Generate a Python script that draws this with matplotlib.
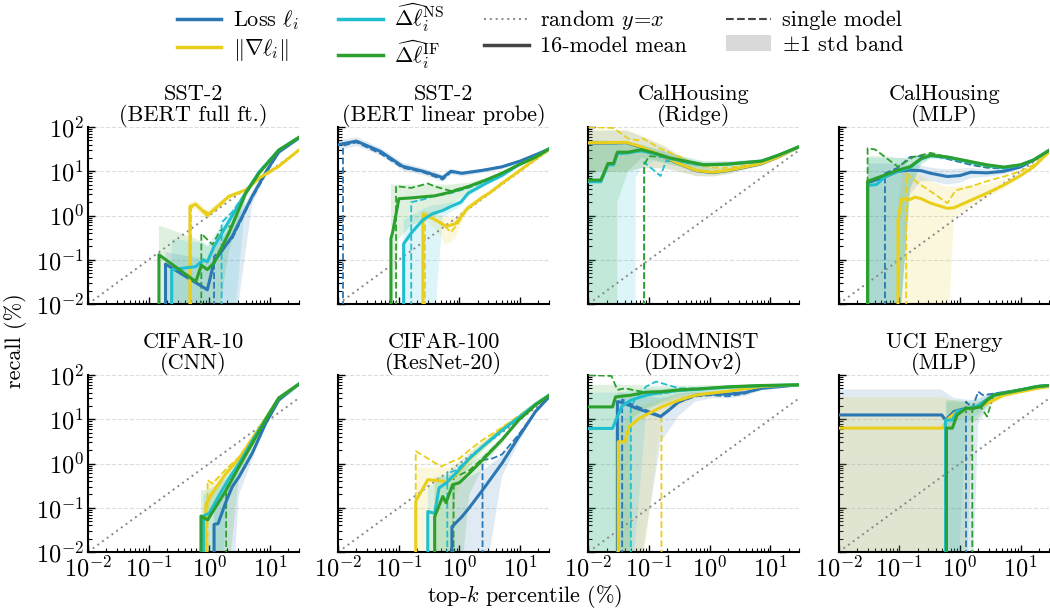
import numpy as np
import matplotlib
matplotlib.use("Agg")
import matplotlib.pyplot as plt
from matplotlib.lines import Line2D
from matplotlib.patches import Patch
from matplotlib.ticker import LogLocator, NullFormatter

# =========================================================
# DATA (recall % vs top-k percentile %)
# x: top-k percentile, mean: 16-model mean, lo/hi: +-1 std band
# sx/sy: single model curve. recall 0 -> drawn as vertical drop
# =========================================================

# --- SST-2 (BERT full ft.)
sst2_full_loss = dict(
    x=[0.19, 0.19, 0.93, 1.2, 2.4, 5.1, 9.1, 14, 30],
    mean=[0, 0.08, 0.021, 0.09, 0.34, 2.7, 11, 27, 56],
    hi=[0, 0.15, 0.1, 0.2, 0.6, 3.5, 12.5, 29, 58],
    lo=[0, 0, 0, 0, 0.001, 1.8, 9.5, 25, 54],
    sx=[1.2, 1.2, 2.4, 5.1, 9.1, 14, 30],
    sy=[0, 0.12, 0.3, 2.5, 10, 27, 56])
sst2_full_grad = dict(
    x=[0.48, 0.48, 0.6, 0.93, 2.1, 4.0, 6.6, 14, 30],
    mean=[0, 1.6, 1.8, 1.0, 2.7, 3.8, 7, 13, 30],
    hi=[0, 2.0, 2.2, 1.3, 3.0, 4.1, 7.5, 13.5, 31],
    lo=[0, 1.2, 1.4, 0.8, 2.4, 3.5, 6.5, 12.5, 29],
    sx=[0.5, 0.5, 0.6, 1.0, 1.4, 2.1, 4, 6.6, 14, 30],
    sy=[0, 1.5, 1.7, 1.1, 1.5, 2.6, 3.7, 6.5, 12.5, 30])
sst2_full_ns = dict(
    x=[0.24, 0.24, 0.6, 0.8, 0.93, 1.2, 2.4, 4.0, 6.6, 14, 30],
    mean=[0, 0.06, 0.07, 0.1, 0.09, 0.2, 1.0, 3.3, 9.5, 30, 58],
    hi=[0, 0.3, 0.25, 0.25, 0.22, 0.35, 1.4, 3.8, 10, 31, 59],
    lo=[0, 0, 0, 0, 0, 0, 0.001, 2.6, 8.8, 29, 57],
    sx=[1.6, 1.6, 2.4, 4, 6.6, 14, 30],
    sy=[0, 0.7, 1.2, 3.3, 10, 30, 58])
sst2_full_if = dict(
    x=[0.148, 0.148, 0.6, 0.74, 0.93, 1.2, 2.1, 4.0, 6.6, 14, 30],
    mean=[0, 0.13, 0.032, 0.075, 0.06, 0.085, 0.4, 3.2, 9, 30, 58],
    hi=[0, 0.6, 0.3, 0.25, 0.2, 0.25, 0.7, 4.0, 10, 32, 59],
    lo=[0, 0, 0, 0, 0, 0.001, 0.15, 2.5, 8, 28, 57],
    sx=[0.74, 0.74, 1.13, 1.5, 2.4, 4, 6.6, 14, 30],
    sy=[0, 0.39, 0.22, 0.45, 0.6, 3.3, 9.5, 30, 58])

# --- SST-2 (BERT linear probe)
sst2_lin_loss = dict(
    x=[0.01, 0.02, 0.05, 0.115, 0.25, 0.53, 0.72, 1.1, 2.4, 5, 10, 20, 30],
    mean=[40, 48, 28, 13, 10, 7.2, 10, 9, 10.5, 12.6, 17, 25, 32],
    hi=[52, 60, 34, 16, 12, 8.5, 11.5, 10.3, 11.7, 13.8, 18.3, 26.5, 33],
    lo=[31, 38, 23, 10.5, 8.4, 6.0, 8.7, 7.8, 9.4, 11.5, 15.8, 23.5, 31],
    sx=[0.012, 0.012, 0.02, 0.05, 0.115, 0.25, 0.53, 0.72, 1.1, 2.4, 5, 10, 20, 30],
    sy=[0, 38, 45, 25, 12, 9.5, 6.5, 9.5, 9, 10.5, 12.6, 17, 25, 32])
sst2_lin_grad = dict(
    x=[0.25, 0.25, 0.4, 0.6, 0.86, 1.05, 1.35, 2.4, 3.1, 5, 9.5, 18, 30],
    mean=[0, 1.1, 0.8, 0.57, 0.65, 0.93, 1.45, 2.6, 3.2, 5.3, 10, 19, 31],
    hi=[0, 1.3, 1.1, 0.9, 0.9, 1.2, 1.7, 2.9, 3.5, 5.7, 10.5, 19.5, 32],
    lo=[0, 0.9, 0.5, 0.22, 0.3, 0.65, 1.2, 2.3, 2.9, 5, 9.5, 18.5, 30],
    sx=[0.27, 0.27, 0.5, 0.72, 0.9, 1.35, 2.4, 5, 9.5, 18, 30],
    sy=[0, 1.0, 0.7, 0.42, 0.6, 1.4, 2.5, 5.5, 10, 19, 31])
sst2_lin_ns = dict(
    x=[0.12, 0.12, 0.16, 0.25, 0.36, 0.53, 0.72, 1.05, 1.4, 2.7, 5, 9.5, 18, 30],
    mean=[0, 0.23, 0.4, 0.8, 1.1, 1.3, 1.6, 2.0, 3.2, 5.3, 8, 14, 21, 32],
    hi=[0, 0.8, 1.0, 1.4, 1.7, 1.8, 2.0, 2.4, 3.8, 6, 9, 15, 22, 33],
    lo=[0, 0.001, 0.001, 0.001, 0.001, 0.9, 1.2, 1.6, 2.7, 4.7, 7.2, 13, 20, 31],
    sx=[0.16, 0.16, 0.25, 0.4, 0.72, 1.4, 2.7, 5, 9.5, 18, 30],
    sy=[0, 2.0, 2.3, 2.8, 3.2, 4.2, 6, 8.5, 14, 21, 32])
sst2_lin_if = dict(
    x=[0.074, 0.074, 0.08, 0.1, 0.16, 0.4, 0.72, 1.4, 2.7, 5, 9.5, 18, 30],
    mean=[0, 0.3, 0.45, 2.4, 2.5, 2.8, 3.4, 4.5, 6.3, 9, 14, 21, 32],
    hi=[0, 5, 5, 5, 5, 5, 5, 5.5, 7, 9.8, 15, 22, 33],
    lo=[0, 0.001, 0.01, 0.3, 0.6, 1.0, 1.8, 3.3, 5.6, 8.2, 13, 20, 31],
    sx=[0.09, 0.09, 0.16, 0.3, 0.4, 0.72, 1.4, 2.7, 5, 9.5, 18, 30],
    sy=[0, 4.6, 4.2, 5.3, 4.5, 3.6, 4.6, 6.3, 9, 14, 21, 32])

# --- CalHousing (Ridge)
cal_ridge_loss = dict(
    x=[0.01, 0.042, 0.069, 0.17, 0.31, 0.59, 1.1, 2.0, 3.8, 7.2, 13.5, 30],
    mean=[43, 44, 36, 21.5, 14.8, 10.3, 9.3, 10.3, 12.3, 14.8, 21, 36],
    hi=[85, 85, 65, 38, 23, 14.5, 11.8, 12.3, 13.6, 16, 22, 37],
    lo=[10, 10, 12, 12, 10, 8, 7.8, 8.8, 11.2, 13.8, 20, 35])
cal_ridge_grad = dict(
    x=[0.01, 0.042, 0.069, 0.17, 0.31, 0.59, 1.1, 2.0, 3.8, 7.2, 13.5, 30],
    mean=[44, 45, 37, 22, 15, 10.5, 9.5, 10.5, 12.5, 15, 21, 36],
    hi=[90, 88, 70, 40, 24, 15, 12, 12.5, 13.8, 16.2, 22, 37],
    lo=[10, 10, 12, 12, 10, 8, 7.8, 8.8, 11.2, 13.8, 20, 35],
    sx=[0.01, 0.026, 0.045, 0.065, 0.08, 0.15, 0.3, 0.6, 1.2, 2, 3.8, 7.2, 13.5, 30],
    sy=[100, 95, 55, 50, 55, 33, 22, 14, 12, 12, 13.5, 16, 22, 36])
cal_ridge_ns = dict(
    x=[0.01, 0.016, 0.021, 0.026, 0.03, 0.045, 0.054, 0.06, 0.075, 0.12, 0.22,
       0.4, 0.8, 2.0, 7.2, 13.5, 30],
    mean=[5.8, 5.8, 14, 14, 25, 26, 27, 28, 29, 25, 19.5, 16.5, 14, 14.5, 17, 23, 36],
    hi=[45, 45, 45, 42, 40, 38, 38, 38, 38, 32, 25, 20, 16, 16.5, 18.5, 24.5, 37],
    lo=[0, 0, 0, 0, 0, 0, 0, 7, 12, 17, 15, 13.5, 12, 12.5, 15.5, 21.5, 35],
    sx=[0.083, 0.083, 0.155, 0.19, 0.3, 0.6, 2, 7.2, 13.5, 30],
    sy=[0, 16, 7.8, 17, 17, 14, 14.5, 17, 23, 36])
cal_ridge_if = dict(
    x=[0.01, 0.016, 0.021, 0.026, 0.03, 0.045, 0.075, 0.12, 0.22, 0.4, 0.8, 2.0,
       7.2, 13.5, 30],
    mean=[6.3, 6.3, 15, 15, 27, 27, 31, 26, 20, 17, 14, 14.5, 17, 23, 36],
    hi=[50, 50, 50, 45, 42, 40, 40, 33, 26, 21, 17, 17, 18.5, 24.5, 37],
    lo=[0, 0, 0, 0, 2, 10, 20, 18, 14, 12, 10.5, 11.5, 15.5, 21.5, 35],
    sx=[0.083, 0.083, 0.1, 0.17, 0.3, 0.6, 1.2, 2, 7.2, 13.5, 30],
    sy=[0, 14, 22, 21, 17, 14.5, 13.5, 14.5, 17, 23, 36])

# --- CalHousing (MLP)
cal_mlp_loss = dict(
    x=[0.03, 0.03, 0.058, 0.095, 0.15, 0.23, 0.33, 0.62, 1.0, 1.5, 2.8, 5.3, 10, 16.5, 30],
    mean=[0, 5.5, 7.5, 10, 10.6, 10.3, 9, 7.6, 8, 9.5, 9.2, 10, 12.5, 18, 30],
    hi=[0, 15, 15, 15, 14, 13.5, 12, 11, 11.5, 12, 11, 11, 13.5, 19, 31],
    lo=[0, 0, 0, 0.001, 3, 6, 6, 5, 5.5, 7, 7.5, 8.5, 11.5, 17, 29],
    sx=[0.058, 0.058, 0.095, 0.15, 0.33, 0.62, 1.5, 2.8, 5.3, 10, 16.5, 30],
    sy=[0, 9, 12, 21, 23, 19, 14, 12, 11.5, 13, 18, 30])
cal_mlp_grad = dict(
    x=[0.095, 0.095, 0.11, 0.15, 0.18, 0.23, 0.33, 0.62, 0.8, 1.5, 2.8, 5.3, 10, 16.5, 30],
    mean=[0, 0.8, 2.4, 2.3, 2.6, 2.4, 1.9, 1.45, 1.5, 2.2, 3.2, 4.9, 8, 12.6, 28],
    hi=[0, 1.5, 9, 9, 9, 8, 6, 4.5, 4.5, 5, 5, 6.5, 9, 13.5, 29],
    lo=[0, 0, 0, 0, 0, 0, 0, 0.001, 0.9, 1.6, 2.5, 4, 7, 11.5, 27],
    sx=[0.13, 0.13, 0.2, 0.33, 0.62, 0.85, 1.5, 2.8, 5.3, 10, 16.5, 30],
    sy=[0, 8.9, 5.5, 3.5, 1.9, 3.7, 4.5, 6, 7.6, 10, 14, 28])
cal_mlp_ns = dict(
    x=[0.03, 0.03, 0.042, 0.058, 0.095, 0.15, 0.23, 0.33, 0.62, 1.5, 2.8, 5.3, 10, 16.5, 30],
    mean=[0, 4.8, 5, 7.5, 10, 12, 19, 22.5, 20.5, 16, 13.5, 12, 13.8, 18, 30],
    hi=[0, 20, 20, 20, 20, 20, 23, 25, 23, 18, 15, 13.5, 15, 19, 31],
    lo=[0, 0, 0, 0, 0.001, 4, 14, 19, 18, 14, 12, 10.5, 12.5, 17, 29])
cal_mlp_if = dict(
    x=[0.03, 0.03, 0.032, 0.042, 0.058, 0.095, 0.15, 0.23, 0.33, 0.62, 1.5, 2.8, 5.3,
       10, 16.5, 30],
    mean=[0, 6, 6.1, 7, 8.2, 10.6, 12.6, 19.5, 23, 21, 16.5, 14, 12.4, 14, 18, 30],
    hi=[0, 22, 22, 22, 22, 20, 20, 23, 26, 23, 18, 15, 13.5, 15, 19, 31],
    lo=[0, 0, 0, 0, 0, 0.001, 4, 15, 20, 19, 15, 13, 11.5, 13, 17, 29],
    sx=[0.03, 0.03, 0.04, 0.095, 0.17, 0.33, 0.62, 1.5, 2.8, 5.3, 10, 16.5, 30],
    sy=[0, 33, 31, 12.6, 21, 26, 21, 15, 12.5, 12, 13.5, 18, 30])

# --- CIFAR-10 (CNN)
cifar10_loss = dict(
    x=[1.2, 1.2, 1.4, 1.9, 2.4, 3.1, 5.1, 8.5, 14, 30],
    mean=[0, 0.042, 0.044, 0.14, 0.3, 0.5, 1.7, 8, 27, 62],
    hi=[0, 0.1, 0.12, 0.3, 0.5, 0.8, 2.2, 9, 28, 63],
    lo=[0, 0, 0, 0, 0.001, 0.2, 1.2, 7, 26, 61])
cifar10_grad = dict(
    x=[0.88, 0.88, 1.13, 1.9, 3.1, 5.1, 8.5, 14, 30],
    mean=[0, 0.12, 0.22, 0.6, 1.3, 3.6, 10.5, 30, 62],
    hi=[0, 0.3, 0.4, 0.8, 1.5, 4, 11, 31, 63],
    lo=[0, 0.05, 0.12, 0.45, 1.1, 3.2, 10, 29, 61],
    sx=[0.94, 0.94, 1.13, 1.9, 3.1, 5.1, 8.5, 14, 30],
    sy=[0, 0.42, 0.35, 0.75, 1.4, 3.8, 10.5, 30, 62])
cifar10_ns = dict(
    x=[0.8, 0.8, 1.0, 1.45, 2.1, 3.1, 5.1, 8.5, 14, 30],
    mean=[0, 0.065, 0.075, 0.19, 0.45, 1.0, 3.2, 10, 30, 62],
    hi=[0, 0.2, 0.2, 0.35, 0.7, 1.3, 3.8, 11, 31, 63],
    lo=[0, 0, 0, 0.001, 0.2, 0.7, 2.7, 9, 29, 61])
cifar10_if = dict(
    x=[0.73, 0.73, 0.94, 1.9, 3.1, 5.1, 8.5, 14, 30],
    mean=[0, 0.065, 0.053, 0.25, 0.85, 2.8, 9.6, 30, 62],
    hi=[0, 0.25, 0.25, 0.45, 1.1, 3.3, 10.5, 31, 63],
    lo=[0, 0, 0, 0.001, 0.5, 2.3, 8.8, 29, 61],
    sx=[1.9, 1.9, 3.1, 5.1, 8.5, 14, 30],
    sy=[0, 0.27, 0.9, 2.9, 9.8, 30, 62])

# --- CIFAR-100 (ResNet-20)
cifar100_loss = dict(
    x=[0.75, 0.75, 1.1, 1.45, 2.4, 5, 9.5, 18, 30],
    mean=[0, 0.037, 0.063, 0.1, 0.25, 1.0, 4, 15, 32],
    hi=[0, 0.3, 0.4, 0.5, 0.7, 1.5, 5, 16, 33],
    lo=[0, 0, 0, 0, 0.001, 0.5, 3, 14, 31],
    sx=[2.4, 2.4, 3.5, 5, 9.5, 18, 30],
    sy=[0, 1.2, 1.3, 1.6, 4.5, 15, 32])
cifar100_grad = dict(
    x=[0.19, 0.19, 0.3, 0.45, 0.63, 0.87, 1.45, 2.4, 5, 9.5, 18, 30],
    mean=[0, 0.14, 0.43, 0.41, 0.38, 0.55, 1.25, 2.4, 6, 11, 22, 35],
    hi=[0, 0.8, 0.8, 0.8, 0.8, 1.0, 1.8, 3.2, 7, 12, 23, 36],
    lo=[0, 0, 0, 0, 0.001, 0.2, 0.8, 1.8, 5, 10, 21, 34],
    sx=[0.19, 0.19, 0.5, 0.63, 1.0, 1.45, 2.4, 5, 9.5, 18, 30],
    sy=[0, 1.9, 0.85, 1.0, 1.3, 2.0, 3.4, 6.5, 12, 22, 35])
cifar100_ns = dict(
    x=[0.3, 0.3, 0.39, 0.46, 0.6, 0.87, 1.45, 2.4, 5, 9.5, 18, 30],
    mean=[0, 0.082, 0.075, 0.28, 0.36, 0.6, 1.3, 2.4, 5.6, 11, 22, 35],
    hi=[0, 0.3, 0.35, 0.5, 0.6, 0.9, 1.7, 3, 6.5, 12, 23, 36],
    lo=[0, 0, 0, 0, 0.001, 0.3, 0.9, 1.9, 4.8, 10, 21, 34],
    sx=[0.63, 0.63, 0.87, 1.45, 2.4, 5, 9.5, 18, 30],
    sy=[0, 0.6, 0.7, 1.3, 2.4, 5.6, 11, 22, 35])
cifar100_if = dict(
    x=[0.39, 0.39, 0.53, 0.6, 0.77, 1.0, 1.45, 2.4, 5, 9.5, 18, 30],
    mean=[0, 0.063, 0.18, 0.13, 0.33, 0.37, 0.6, 1.2, 3.4, 9.6, 21, 34],
    hi=[0, 0.5, 0.5, 0.5, 0.6, 0.7, 1.0, 1.6, 4, 10.5, 22, 35],
    lo=[0, 0, 0, 0, 0, 0.001, 0.2, 0.8, 2.8, 8.8, 20, 33],
    sx=[0.8, 0.8, 1.0, 1.45, 2.4, 5, 9.5, 18, 30],
    sy=[0, 0.5, 0.55, 0.7, 1.3, 3.5, 9.6, 21, 34])

# --- BloodMNIST (DINOv2)
blood_loss = dict(
    x=[0.03, 0.03, 0.036, 0.06, 0.155, 0.2, 0.31, 0.58, 1.1, 2.0, 3.8, 7.2, 30],
    mean=[0, 25, 24, 18, 11.5, 15, 25, 35, 37, 37, 40, 50, 60],
    hi=[0, 40, 40, 35, 30, 32, 38, 42, 43, 45, 47, 55, 63],
    lo=[0, 0, 0, 0.001, 3, 5, 12, 25, 30, 30, 33, 45, 57],
    sx=[0.036, 0.036, 0.06, 0.155, 0.31, 0.58, 1.1, 2, 3.8, 7.2, 30],
    sy=[0, 28, 20, 12, 24, 33, 35, 33, 38, 50, 60])
blood_grad = dict(
    x=[0.031, 0.031, 0.04, 0.047, 0.069, 0.16, 0.31, 0.58, 1.1, 2, 7.2, 30],
    mean=[0, 3.1, 3.1, 6.8, 10.5, 19, 27, 35, 39, 43, 55, 60],
    hi=[0, 8, 8, 15, 20, 28, 36, 40, 43, 47, 58, 62],
    lo=[0, 0, 0, 0, 0.001, 12, 20, 30, 35, 40, 52, 58],
    sx=[0.16, 0.16, 0.31, 0.58, 1.1, 2, 7.2, 30],
    sy=[0, 11.5, 26, 34, 39, 43, 55, 60])
blood_ns = dict(
    x=[0.01, 0.025, 0.03, 0.036, 0.05, 0.09, 0.155, 0.31, 0.58, 2, 7.2, 30],
    mean=[6.2, 6.2, 11.5, 20, 27, 35, 40, 45, 47, 53, 57, 60],
    hi=[40, 40, 40, 40, 45, 50, 50, 52, 53, 57, 60, 63],
    lo=[0, 0, 0, 0, 0.001, 15, 25, 35, 40, 48, 54, 57],
    sx=[0.05, 0.05, 0.06, 0.09, 0.13, 0.2, 0.31, 1.1, 7.2, 30],
    sy=[0, 18, 30, 55, 71, 60, 50, 50, 58, 60])
blood_if = dict(
    x=[0.01, 0.025, 0.028, 0.05, 0.09, 0.155, 0.31, 0.58, 2, 7.2, 30],
    mean=[19, 19, 32, 35, 41, 42, 46, 48, 54, 58, 60],
    hi=[60, 60, 60, 60, 58, 57, 58, 58, 60, 62, 63],
    lo=[0, 0, 0, 10, 18, 22, 30, 36, 46, 53, 57],
    sx=[0.01, 0.024, 0.03, 0.04, 0.09, 0.16, 0.31, 1.1, 7.2, 30],
    sy=[100, 95, 46, 50, 40, 38, 44, 50, 58, 60])

# --- UCI Energy (MLP)
energy_loss = dict(
    x=[0.01, 0.5, 0.58, 0.8, 1.26, 1.6, 2.0, 3.6, 10, 19, 30],
    mean=[12.5, 12.5, 9.6, 15, 17.7, 17, 20, 35, 46, 55, 58],
    hi=[47, 47, 40, 30, 28, 27, 30, 40, 50, 57, 60],
    lo=[0, 0, 0, 0, 0, 0.001, 8, 28, 42, 52, 56],
    sx=[1.26, 1.26, 1.6, 2.0, 2.4, 3.6, 10, 19, 30],
    sy=[0, 25, 17.7, 42, 35, 38, 47, 55, 58])
energy_grad = dict(
    x=[0.01, 0.52, 0.6, 0.9, 1.6, 2.8, 5.3, 10, 19, 30],
    mean=[6.3, 6.3, 9.6, 15, 17.7, 23, 35, 42, 50, 55],
    hi=[32, 32, 30, 25, 24, 28, 40, 46, 53, 57],
    lo=[0, 0, 5, 10, 13, 19, 30, 38, 47, 53])
energy_ns = dict(
    x=[0.58, 0.58, 0.75, 0.9, 1.26, 2.0, 3.6, 10, 19, 30],
    mean=[0, 9.6, 9.6, 15, 17, 20, 35, 46, 55, 58],
    hi=[0, 25, 25, 25, 25, 28, 40, 50, 57, 60],
    lo=[0, 0, 0, 0.001, 8, 13, 30, 42, 52, 56])
energy_if = dict(
    x=[0.6, 0.6, 0.75, 0.9, 1.26, 1.6, 2.2, 2.8, 3.6, 5.3, 10, 19, 30],
    mean=[0, 6.3, 6.3, 12.5, 17.7, 17.7, 19, 27, 35, 39, 46, 55, 58],
    hi=[0, 27, 27, 27, 25, 22, 25, 32, 40, 43, 49, 57, 60],
    lo=[0, 0, 0, 0, 0.001, 8, 12, 20, 30, 35, 43, 53, 56],
    sx=[1.6, 1.6, 2.2, 2.8, 3.6, 5.3, 10, 19, 30],
    sy=[0, 17.7, 19, 11.5, 35, 40, 46, 55, 58])

titles = ["SST-2\n(BERT full ft.)", "SST-2\n(BERT linear probe)",
          "CalHousing\n(Ridge)", "CalHousing\n(MLP)",
          "CIFAR-10\n(CNN)", "CIFAR-100\n(ResNet-20)",
          "BloodMNIST\n(DINOv2)", "UCI Energy\n(MLP)"]

panels = [
    [sst2_full_loss, sst2_full_grad, sst2_full_ns, sst2_full_if],
    [sst2_lin_loss, sst2_lin_grad, sst2_lin_ns, sst2_lin_if],
    [cal_ridge_loss, cal_ridge_grad, cal_ridge_ns, cal_ridge_if],
    [cal_mlp_loss, cal_mlp_grad, cal_mlp_ns, cal_mlp_if],
    [cifar10_loss, cifar10_grad, cifar10_ns, cifar10_if],
    [cifar100_loss, cifar100_grad, cifar100_ns, cifar100_if],
    [blood_loss, blood_grad, blood_ns, blood_if],
    [energy_loss, energy_grad, energy_ns, energy_if],
]

method_labels = [r"Loss $\ell_i$", r"$\|\nabla\ell_i\|$",
                 r"$\widehat{\Delta\ell}_i^{\mathrm{NS}}$",
                 r"$\widehat{\Delta\ell}_i^{\mathrm{IF}}$"]
colors = ["#2a77b4", "#e9cf1c", "#1fbfd0", "#2ca02c"]

# =========================================================
# STYLE
# =========================================================

plt.rcParams['font.family'] = ['cmr10', 'DejaVu Serif']
plt.rcParams['mathtext.fontset'] = 'cm'
plt.rcParams['axes.formatter.use_mathtext'] = True
plt.rcParams['axes.unicode_minus'] = False
plt.rcParams['font.size'] = 16

fig, axes = plt.subplots(2, 4, figsize=(10.5, 6.13), dpi=100,
                         sharex=True, sharey=True)
fig.subplots_adjust(left=0.0838, right=0.9995, top=0.7928, bottom=0.0995,
                    wspace=0.187, hspace=0.401)

for ax, title, series in zip(axes.flat, titles, panels):
    ax.set_xscale("log")
    ax.set_yscale("log")

    # bandas +-1 std
    for s, c in zip(series, colors):
        ax.fill_between(s["x"], s["lo"], s["hi"], color=c, alpha=0.15,
                        lw=0, zorder=1)

    # referencia aleatoria y = x
    ax.plot([0.01, 30], [0.01, 30], linestyle=(0, (1, 2)), color="#888888",
            lw=1.4, zorder=2)

    for s, c in zip(series, colors):
        if "sx" in s:
            ax.plot(s["sx"], s["sy"], "--", color=c, lw=1.3, zorder=3)
        ax.plot(s["x"], s["mean"], color=c, lw=2.2, zorder=4)

    ax.set_xlim(0.01, 30)
    ax.set_ylim(0.01, 100)
    ax.set_title(title, fontsize=16, pad=3, linespacing=1.0)

    for axis in (ax.xaxis, ax.yaxis):
        axis.set_major_locator(LogLocator(base=10, numticks=12))
        axis.set_minor_locator(LogLocator(base=10, subs=np.arange(2, 10),
                                          numticks=100))
        axis.set_minor_formatter(NullFormatter())

    ax.yaxis.grid(True, which="major", linestyle="--", color="#dddddd", lw=0.8)
    ax.set_axisbelow(True)
    for side in ["top", "right"]:
        ax.spines[side].set_visible(False)
    for side in ["left", "bottom"]:
        ax.spines[side].set_linewidth(1.5)
    ax.tick_params(which="both", direction="in", top=False, right=False)
    ax.tick_params(which="major", length=5, width=1.0, labelsize=17.5, pad=3)
    ax.tick_params(which="minor", length=3, width=0.8)

fig.text(0.5, 0.027, r"top-$k$ percentile (%)", ha="center", va="center",
         fontsize=16)
fig.text(0.015, 0.445, "recall (%)", ha="center", va="center",
         rotation=90, fontsize=16)

# =========================================================
# LEYENDA
# =========================================================

handles = [Line2D([], [], color=c, lw=2.5) for c in colors]
handles += [Line2D([], [], color="#888888", linestyle=(0, (1, 2)), lw=1.4),
            Line2D([], [], color="#444444", lw=2.5),
            Line2D([], [], color="#444444", linestyle="--", lw=1.5),
            Patch(facecolor="#d9d9d9", edgecolor="none")]
labels = method_labels + [r"random $y\!=\!x$", "16-model mean",
                          "single model", r"$\pm$1 std band"]

fig.legend(handles, labels, ncol=4, loc="upper center",
           bbox_to_anchor=(0.515, 1.03), frameon=False, fontsize=16,
           handlelength=2.0, columnspacing=1.8, labelspacing=0.2,
           handletextpad=0.5)

fig.savefig("out.png", dpi=100)
